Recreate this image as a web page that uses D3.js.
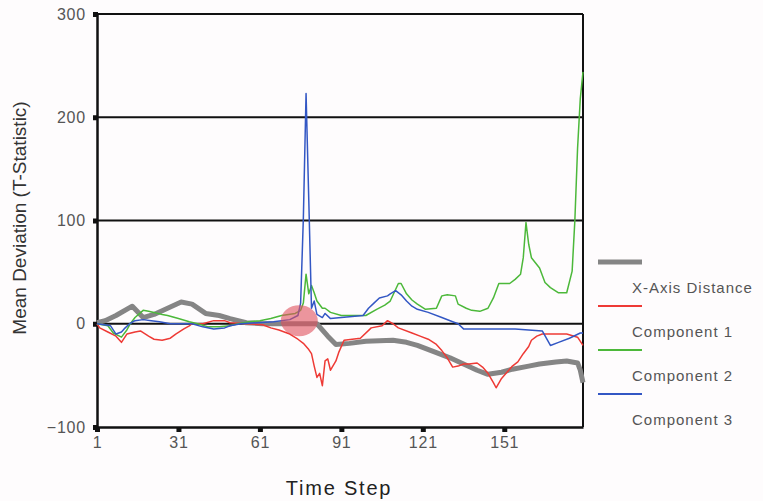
<!DOCTYPE html>
<html>
<head>
<meta charset="utf-8">
<script src="https://cdnjs.cloudflare.com/ajax/libs/d3/7.8.5/d3.min.js"></script>
<style>
  body { margin: 0; background: #fefcfd; }
  .gv-chart svg { display: block; font-family: "Liberation Sans", Arial, sans-serif; }
</style>
</head>
<body>
<div class="gv-chart"></div>
<script>
// time steps and values
var distSteps  = [1, 4, 8, 14, 18, 22, 27, 32, 36, 41, 46, 50, 56, 62, 70, 76, 82, 83, 86, 89, 94, 100, 110, 115, 119, 126, 131, 136, 141, 145, 150, 154, 160, 164, 170, 174, 178, 179, 180];
var distValues = [1, 3, 8, 17, 6, 9, 15, 21, 19, 10, 8, 5, 1, 0, 0, 0, 0, -3, -12, -20, -19, -17, -16, -18, -21, -28, -33, -39, -45, -49, -47, -44, -41, -39, -37, -36, -38, -45, -57];

var comp1Steps  = [1, 2, 5, 8, 10, 12, 15, 17, 20, 22, 25, 28, 30, 33, 35, 36, 40, 44, 48, 50, 56, 62, 65, 68, 72, 75, 77, 79, 80, 81, 82, 83, 84, 85, 86, 87, 89, 90, 92, 95, 98, 102, 106, 108, 110, 112, 117, 120, 123, 126, 128, 130, 132, 134, 136, 138, 141, 143, 145, 147, 148, 150, 152, 154, 156, 158, 160, 161, 163, 165, 170, 174, 178, 180];
var comp1Values = [0, -4, -8, -12, -18, -10, -8, -7, -12, -15, -16, -14, -10, -5, -2, 0, 0, 3, 3, 1, 0, -1, -4, -6, -10, -15, -19, -25, -29, -41, -52, -48, -60, -36, -34, -45, -36, -28, -16, -15, -14, -4, -2, 3, 0, -4, -9, -12, -15, -20, -26, -33, -42, -41, -39, -39, -38, -42, -48, -57, -62, -53, -47, -41, -37, -29, -22, -16, -12, -10, -10, -10, -13, -21];

var comp2Steps  = [1, 5, 7, 10, 12, 13, 15, 18, 20, 22, 25, 27, 31, 35, 38, 42, 46, 50, 53, 57, 61, 65, 69, 74, 76, 77, 78, 79, 80, 81, 82, 84, 85, 87, 91, 95, 100, 104, 107, 109, 112, 113, 115, 117, 119, 122, 126, 128, 130, 133, 134, 137, 139, 142, 145, 147, 149, 153, 155, 157, 158, 159, 160, 161, 164, 166, 168, 171, 174, 176, 177, 178, 179, 180];
var comp2Values = [0, -2, -9, -13, -6, -1, 6, 13, 12, 11, 9, 8, 5, 2, 0, -3, -3, -2, 0, 2, 3, 5, 8, 10, 13, 20, 48, 29, 37, 30, 22, 15, 15, 11, 8, 8, 8, 14, 18, 22, 39, 39, 29, 23, 19, 14, 15, 27, 28, 27, 19, 15, 13, 12, 15, 25, 39, 39, 43, 48, 64, 98, 77, 64, 54, 40, 35, 30, 30, 51, 100, 170, 218, 244];

var comp3Steps  = [1, 6, 8, 10, 11, 13, 15, 18, 21, 24, 28, 36, 40, 44, 48, 50, 54, 60, 66, 72, 75, 76, 77, 78, 79, 80, 81, 82, 84, 85, 87, 91, 95, 99, 101, 103, 105, 108, 109, 111, 113, 115, 117, 119, 123, 128, 132, 134, 136, 145, 155, 165, 168, 171, 175, 179, 180];
var comp3Values = [0, -2, -10, -8, -5, 0, 3, 4, 3, 2, 0, 0, -3, -5, -4, -2, 0, 1, 2, 4, 8, 20, 102, 223, 120, 15, 22, 9, 6, 10, 5, 6, 7, 8, 15, 20, 25, 27, 29, 32, 28, 22, 17, 14, 11, 6, 2, 0, -5, -5, -5, -7, -21, -18, -14, -9, -9];

var xTicks = [1, 31, 61, 91, 121, 151];
var yTicks = [-100, 0, 100, 200, 300];
var seriesNames = ["X-Axis Distance", "Component 1", "Component 2", "Component 3"];
var seriesColors = ["#858585", "#ee3a35", "#4cb83a", "#3357c4"];

// highlighted spot (time step, value)
var highlight = [{ t: 75.5, v: 3 }];

var margin = {top: 14, right: 180, bottom: 74, left: 97},
    width = 763 - margin.left - margin.right,
    height = 501 - margin.top - margin.bottom;

var containerDiv = d3.select(".gv-chart");

var svg = containerDiv.append("svg").attr("width", 763).attr("height", 501),
    g = svg.append("g").attr("transform", "translate(" + margin.left + "," + margin.top + ")");

var x = d3.scaleLinear().domain([1, 180]).range([0, width]);
var y = d3.scaleLinear().domain([-100, 300]).range([height, 0]);

// grid lines
g.append("g").selectAll("line")
    .data(yTicks.filter(function(d) { return d > -100; }))
    .enter().append("line")
    .attr("x1", 0).attr("x2", width)
    .attr("y1", function(d) { return y(d); })
    .attr("y2", function(d) { return y(d); })
    .attr("stroke", "#111")
    .attr("stroke-width", function(d) { return d == 0 ? 2.2 : 1.8; });

// right border
g.append("line")
    .attr("x1", width).attr("x2", width)
    .attr("y1", 0).attr("y2", height)
    .attr("stroke", "#111").attr("stroke-width", 2);

// axes
var yAxis = g.append("g")
    .call(d3.axisLeft(y).tickValues(yTicks).tickSize(0).tickPadding(12));
var xAxis = g.append("g")
    .attr("transform", "translate(0," + height + ")")
    .call(d3.axisBottom(x).tickValues(xTicks).tickSize(0).tickPadding(10));

[yAxis, xAxis].forEach(function(a) {
  a.select(".domain").attr("stroke", "#111").attr("stroke-width", 2.5);
  a.selectAll("text").attr("fill", "#555").style("font-size", "16px").style("letter-spacing", "0.8px");
});
yAxis.selectAll("text").attr("x", -11);

// square tick marks
yAxis.selectAll(".tick").append("rect")
    .attr("x", -4).attr("y", -2.5).attr("width", 5).attr("height", 5).attr("fill", "#111");
xAxis.selectAll(".tick").append("rect")
    .attr("x", -2.5).attr("y", 0).attr("width", 5).attr("height", 5).attr("fill", "#111");

// series
var series = [
  { steps: distSteps, values: distValues, width: 5 },
  { steps: comp1Steps, values: comp1Values, width: 1.5 },
  { steps: comp2Steps, values: comp2Values, width: 1.5 },
  { steps: comp3Steps, values: comp3Values, width: 1.5 }
];

var lineFunction = d3.line()
    .x(function(d) { return x(d[0]); })
    .y(function(d) { return y(d[1]); });

series.forEach(function(s, i) {
  g.append("path")
      .datum(d3.zip(s.steps, s.values))
      .attr("fill", "none")
      .attr("stroke", seriesColors[i])
      .attr("stroke-width", s.width)
      .attr("stroke-linejoin", "round")
      .attr("d", lineFunction);
});

g.selectAll(".hl")
    .data(highlight)
    .enter().append("ellipse")
    .attr("class", "hl")
    .attr("cx", function(d) { return x(d.t); })
    .attr("cy", function(d) { return y(d.v); })
    .attr("rx", 18.5).attr("ry", 15.5)
    .attr("fill", "#e0505e").attr("fill-opacity", 0.6);

// axis titles
svg.append("text")
    .attr("transform", "translate(26,218) rotate(-90)")
    .attr("text-anchor", "middle")
    .attr("fill", "#333")
    .style("font-size", "19px")
    .text("Mean Deviation (T-Statistic)");

svg.append("text")
    .attr("x", 339).attr("y", 495)
    .attr("text-anchor", "middle")
    .attr("fill", "#222")
    .style("font-size", "20px")
    .style("letter-spacing", "1.8px")
    .text("Time Step");

// legend
var legend = svg.append("g").selectAll("g")
    .data(seriesNames)
    .enter().append("g")
    .attr("transform", function(d, i) { return "translate(598," + (262 + i * 44) + ")"; });

legend.append("line")
    .attr("x1", 0).attr("x2", 44)
    .attr("stroke", function(d, i) { return seriesColors[i]; })
    .attr("stroke-width", function(d, i) { return i == 0 ? 5 : 2; });

legend.append("text")
    .attr("x", 34).attr("y", 31)
    .attr("fill", "#555")
    .style("font-size", "15px")
    .style("letter-spacing", "1px")
    .text(function(d) { return d; });
</script>
</body>
</html>
